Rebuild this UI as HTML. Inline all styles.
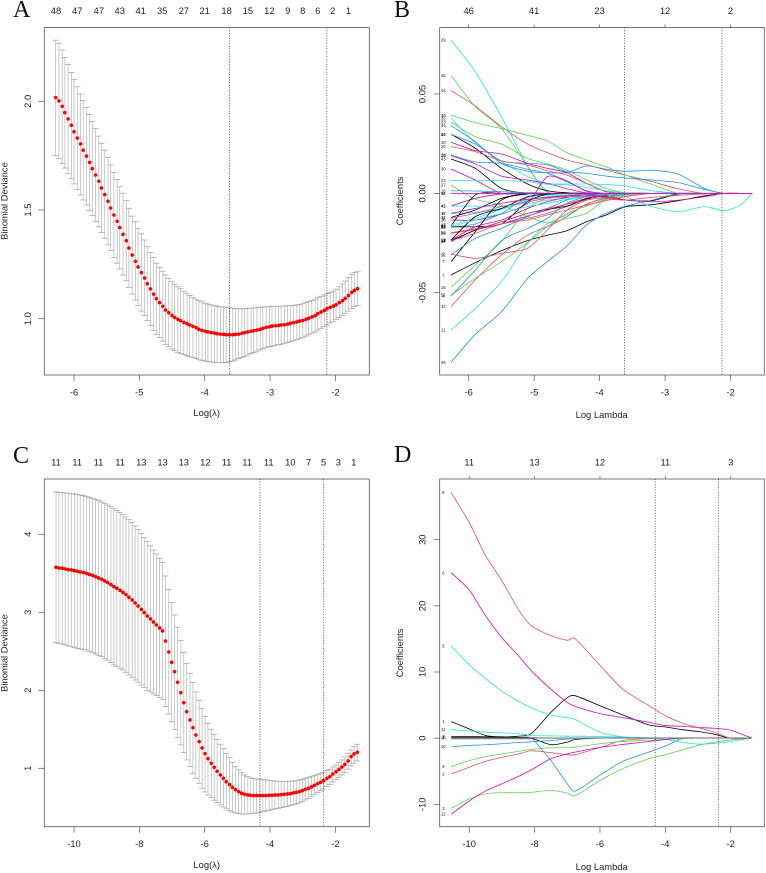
<!DOCTYPE html>
<html lang="en">
<head>
<meta charset="utf-8">
<title>Lasso regression cross-validation and coefficient paths</title>
<style>
html,body{margin:0;padding:0;background:#fff;width:766px;height:873px;overflow:hidden}
svg{display:block;filter:blur(0.3px)}
text{font-family:"Liberation Sans",sans-serif;font-size:9.4px;fill:#222}
.letter{font-family:"Liberation Serif",serif;font-size:24px;fill:#111}
</style>
</head>
<body>
<svg id="figure" xmlns="http://www.w3.org/2000/svg" width="766" height="873" viewBox="0 0 766 873">
  <rect width="766" height="873" fill="#fff"/>
  <text class="letter" x="13" y="17">A</text>
  <text class="letter" x="394" y="17">B</text>
  <text class="letter" x="13" y="463">C</text>
  <text class="letter" x="394" y="462">D</text>

  <text text-anchor="middle" transform="translate(7.5,201) rotate(-90)">Binomial Deviance</text>
  <text text-anchor="middle" x="206.7" y="416">Log(λ)</text>
  <text text-anchor="middle" transform="translate(403,201) rotate(-90)">Coefficients</text>
  <text text-anchor="middle" x="601.7" y="418">Log Lambda</text>
  <text text-anchor="middle" transform="translate(7.5,653) rotate(-90)">Binomial Deviance</text>
  <text text-anchor="middle" x="206.7" y="868">Log(λ)</text>
  <text text-anchor="middle" transform="translate(403,653) rotate(-90)">Coefficients</text>
  <text text-anchor="middle" x="601.7" y="870">Log Lambda</text>
</svg>
<script>
/* ---------- Panel A data ---------- */
const logLambdaA = [-6.28,-6.23,-6.18,-6.14,-6.09,-6.04,-6.00,-5.95,-5.90,-5.86,-5.81,-5.76,-5.72,-5.67,-5.62,-5.58,-5.53,-5.48,-5.44,-5.39,-5.34,-5.30,-5.25,-5.20,-5.16,-5.11,-5.06,-5.02,-4.97,-4.92,-4.88,-4.83,-4.78,-4.74,-4.69,-4.64,-4.60,-4.55,-4.50,-4.46,-4.41,-4.37,-4.32,-4.27,-4.23,-4.18,-4.13,-4.09,-4.04,-3.99,-3.95,-3.90,-3.85,-3.81,-3.76,-3.71,-3.67,-3.62,-3.57,-3.53,-3.48,-3.43,-3.39,-3.34,-3.29,-3.25,-3.20,-3.15,-3.11,-3.06,-3.01,-2.97,-2.92,-2.87,-2.83,-2.78,-2.73,-2.69,-2.64,-2.59,-2.55,-2.50,-2.45,-2.41,-2.36,-2.31,-2.27,-2.22,-2.17,-2.13,-2.08,-2.03,-1.99,-1.94,-1.89,-1.85,-1.80,-1.75,-1.71,-1.66];
const meanA = [2.017,2.002,1.977,1.948,1.919,1.890,1.860,1.831,1.804,1.775,
1.748,1.719,1.690,1.661,1.632,1.601,1.571,1.540,1.509,1.477,
1.448,1.419,1.388,1.359,1.325,1.293,1.264,1.238,1.212,1.187,
1.161,1.137,1.113,1.092,1.074,1.057,1.040,1.028,1.015,1.006,
.997,.991,.983,.977,.971,.965,.959,.951,.946,.942,
.939,.936,.934,.931,.929,.928,.926,.926,.926,.928,
.929,.933,.936,.939,.942,.945,.948,.951,.956,.960,
.963,.966,.968,.969,.971,.972,.975,.979,.982,.985,
.989,.992,.997,1.002,1.008,1.014,1.023,1.031,1.038,1.046,
1.052,1.058,1.064,1.074,1.083,1.094,1.107,1.121,1.130,1.138];
const upperA = [2.281,2.267,2.236,2.202,2.170,2.133,2.101,2.067,2.034,2.003,
1.972,1.940,1.908,1.874,1.840,1.807,1.775,1.741,1.707,1.673,
1.640,1.607,1.577,1.543,1.508,1.472,1.446,1.416,1.390,1.362,
1.331,1.305,1.281,1.255,1.236,1.219,1.201,1.186,1.170,1.158,
1.147,1.138,1.127,1.117,1.107,1.098,1.090,1.083,1.077,1.071,
1.067,1.063,1.060,1.057,1.055,1.054,1.052,1.051,1.048,1.046,
1.046,1.046,1.046,1.048,1.048,1.049,1.051,1.052,1.054,1.055,
1.055,1.057,1.057,1.057,1.058,1.058,1.060,1.060,1.061,1.063,
1.066,1.069,1.074,1.078,1.084,1.090,1.097,1.103,1.109,1.115,
1.121,1.127,1.136,1.147,1.160,1.173,1.189,1.204,1.213,1.216];
const lowerA = [1.750,1.736,1.715,1.693,1.669,1.644,1.620,1.594,1.569,1.546,
1.523,1.498,1.474,1.448,1.423,1.397,1.370,1.340,1.313,1.282,
1.255,1.229,1.201,1.175,1.144,1.113,1.086,1.060,1.035,1.014,
.991,.968,.946,.928,.913,.897,.882,.871,.860,.853,
.845,.840,.834,.830,.825,.821,.816,.811,.808,.805,
.802,.801,.799,.798,.798,.798,.799,.802,.805,.810,
.817,.822,.827,.833,.839,.845,.851,.857,.862,.867,
.871,.874,.877,.880,.883,.887,.890,.894,.899,.903,
.908,.914,.920,.926,.933,.939,.948,.956,.963,.971,
.980,.988,.997,1.006,1.015,1.025,1.035,1.046,1.055,1.061];
const xTicksA = [-6,-5,-4,-3,-2];
const yTicksA = [1,1.5,2];
const yTickLabelsA = ["1.0","1.5","2.0"];
const topLabelsA = ["48","47","47","43","41","35","27","21","18","15","12","9","8","6","2","1"];
const topAtA = [-6.275,-5.95,-5.62,-5.30,-4.98,-4.65,-4.32,-4.00,-3.665,-3.34,-3.01,-2.73,-2.50,-2.27,-2.04,-1.80];
const vlinesA = [-3.62,-2.13];

/* ---------- Panel C data ---------- */
const logLambdaC = [-10.55,-10.46,-10.36,-10.27,-10.18,-10.08,-9.99,-9.90,-9.81,-9.71,-9.62,-9.53,-9.43,-9.34,-9.25,-9.15,-9.06,-8.97,-8.87,-8.78,-8.69,-8.59,-8.50,-8.41,-8.32,-8.22,-8.13,-8.04,-7.94,-7.85,-7.76,-7.66,-7.57,-7.48,-7.38,-7.29,-7.20,-7.10,-7.01,-6.92,-6.83,-6.73,-6.64,-6.55,-6.45,-6.36,-6.27,-6.17,-6.08,-5.99,-5.90,-5.80,-5.71,-5.62,-5.52,-5.43,-5.34,-5.24,-5.15,-5.06,-4.96,-4.87,-4.78,-4.68,-4.59,-4.50,-4.41,-4.31,-4.22,-4.13,-4.03,-3.94,-3.85,-3.75,-3.66,-3.57,-3.47,-3.38,-3.29,-3.20,-3.10,-3.01,-2.92,-2.82,-2.73,-2.64,-2.54,-2.45,-2.36,-2.26,-2.17,-2.08,-1.98,-1.89,-1.80,-1.71,-1.61,-1.52,-1.43,-1.33];
const meanC = [3.577,3.568,3.564,3.556,3.547,3.543,3.534,3.526,3.517,3.509,
3.500,3.487,3.474,3.457,3.440,3.423,3.402,3.380,3.355,3.329,
3.308,3.282,3.256,3.226,3.192,3.158,3.120,3.081,3.038,2.996,
2.953,2.915,2.876,2.838,2.799,2.761,2.632,2.491,2.359,2.239,
2.103,1.970,1.842,1.726,1.620,1.521,1.427,1.342,1.261,1.188,
1.124,1.064,1.013,.962,.915,.872,.829,.791,.756,.726,
.701,.679,.667,.658,.654,.650,.650,.650,.650,.650,
.654,.654,.658,.658,.662,.667,.671,.675,.684,.692,
.701,.714,.731,.744,.761,.782,.803,.821,.842,.872,
.893,.927,.957,.987,1.017,1.051,1.094,1.150,1.184,1.205];
const upperC = [4.543,4.538,4.534,4.530,4.526,4.521,4.517,4.509,4.504,4.496,
4.483,4.474,4.462,4.449,4.432,4.415,4.397,4.376,4.355,4.333,
4.308,4.282,4.252,4.222,4.188,4.150,4.107,4.060,4.009,3.957,
3.906,3.850,3.799,3.748,3.692,3.641,3.466,3.291,3.124,2.966,
2.808,2.641,2.487,2.346,2.218,2.098,1.979,1.868,1.765,1.667,
1.577,1.500,1.432,1.368,1.308,1.252,1.192,1.137,1.077,1.021,
.979,.944,.915,.893,.876,.868,.863,.859,.855,.850,
.846,.842,.838,.833,.833,.833,.833,.833,.838,.842,
.850,.859,.872,.885,.897,.910,.923,.936,.949,.970,
.987,1.017,1.043,1.073,1.107,1.145,1.188,1.235,1.278,1.308];
const lowerC = [2.611,2.598,2.594,2.581,2.568,2.564,2.551,2.538,2.530,2.521,
2.517,2.500,2.487,2.466,2.449,2.432,2.406,2.385,2.355,2.325,
2.308,2.282,2.261,2.231,2.197,2.167,2.132,2.103,2.068,2.034,
2.000,1.979,1.953,1.932,1.906,1.880,1.791,1.697,1.598,1.500,
1.393,1.299,1.201,1.107,1.021,.936,.872,.808,.744,.697,
.658,.624,.590,.560,.530,.504,.479,.457,.440,.427,
.419,.415,.415,.415,.419,.423,.427,.436,.444,.453,
.462,.470,.479,.487,.496,.504,.513,.526,.534,.543,
.556,.573,.594,.615,.641,.667,.688,.714,.735,.765,
.791,.825,.855,.885,.915,.944,.987,1.030,1.064,1.094];
const xTicksC = [-10,-8,-6,-4,-2];
const yTicksC = [1,2,3,4];
const yTickLabelsC = ["1","2","3","4"];
const topLabelsC = ["11","11","11","11","13","13","13","12","11","11","11","10","7","5","3","1"];
const topAtC = [-10.55,-9.90,-9.25,-8.59,-7.94,-7.29,-6.64,-5.98,-5.33,-4.70,-4.04,-3.38,-2.82,-2.36,-1.91,-1.44];
const vlinesC = [-4.31,-2.37];

/* ---------- Panel B data: coefficient paths, in thousandths; values after the end of a row are zero ---------- */
const coefGridB = [-6.27,-5.9,-5.5,-5.1,-4.8,-4.5,-4.2,-3.9,-3.6,-3.2,-2.8,-2.4,-2.1,-1.85,-1.67];
const labelsB = [29,45,44,39,33,35,34,31,40,48,20,18,28,43,30,23,27,16,42,41,17,37,36,25,47,22,49,50,24,19,1,46,11,32,51,15,4,7,52,2,5,26,12,13,14,53,6,8,54];
const coefB = [
[77.2,61.2,38.6,13.8,.3],
[59.4,43.6,32.7,13.4,.8],
[51.7,44,33.6,24.8,20.5,16.8,14.4,11.7,9.1,5.9,2.3],
[39.3,35.6,32.6,29.2,26.5,20.5,16.8,13.4,9.1,4.5],
[35.9,28.5,24.8,17.6,14.8,11.7,6.7,2.5,.3],
[37.8,25.5,16.1,8.4,5,4.7,4.7,4.4,3.7,1.3,.2],
[34.1,26,15.1,11.2,10.4,10.4,13.8,12.1,11.1,11.6,9.7,2.5],
[29.7,22.7,12.6,4.7,1.3,.3],
[29.7,24.8,16.4,15.1,14.4,10.9,10.1,8.7,7.7,6.7,5.4,2],
[25.7,21.5,19.8,15.1,12.6,10.4,5,.8],
[23.5,21,16.3,14.3,11.4,9.2,5,1],
[19,14.8,8.7,6.7,5,2.3,.3],
[19.3,15.8,15.1,12.1,10.1,6.4,1],
[17.3,12.6,2.5],
[12.2,6.7],
[6.4,6.4,6.4,5.9,4.5,4.2,3,1.3,.3],
[4.2,-2.9,-5.9,-11.7,-14.8,-12.6,-10.1,-3,-.3],
[1.3,1.2,.8,.3],
[-6.4,-2.5,-.3],
[-6.4,-6.4,-6.4,-5,-3.4,-2.5,-1.7,-1,-.3],
[-10.1,-9.6,-7.6,-3.4,-1.7,-1,-.3],
[-12.1,-8.4,-2.5],
[-13.4,-13.4,-10.4,-5,8.4,5.9,1.3],
[-16.4,-.8],
[-15.9,-12.6,-8.1,-3.7,-1.7,-.7],
[-17.1,-15.4,-10.1,-2,-.8],
[-16.8,-16.8,-15.4,-4.2,-.3],
[-19.8,-17.8,-15.4,-12.6,-10.1,-6.7,-3,-.7],
[-24.3,-18.5,-15.4,-11.4,-8.4,-5.4,-2.5,-.3],
[-23.8,-18.5,-14.3,-10.1,-8.1,-6.4,-2.7,-1.3,-3.4,-3.7,-.3],
[-41.1,-34.9,-28.9,-23.8,-21.1,-18.8,-14.3,-10.9,-6.7,-5.7,-3.7,-1.3],
[-85.1,-71,-59.6,-42.8,-34.4,-26.5,-15.9,-10.1,-6.4,-3.4],
[-68.8,-57.9,-44.5,-25.2,-15.4,-10.9,-5.4,-2,-.3],
[-57,-43.6,-31,-21,-16.8,-11.7,-5.4,-2.5,-.7],
[-51.2,-42.8,-34.4,-24.8,-16.8,-10.1,-6.4,-3,-1.3],
[-47.3,-36.1,-24.3,-7.6,-2.5,-.8],
[-51.7,-38.6,-23.8,-17.6,-12.6,-5,-1.7,-.3],
[-34.4,-19.3,-3.4,-.3],
[-31,-22.7,-17.6,-11.7,-7.6,-3.4,-1.3],
[-30.5,-32.7,-30.2,-27.7,-18.5,-8.4,-3.4,-.8],
[0,0,0,0,0,0,0,-.3,-1.7,-6.7,-9.2,-6.7,-8.7,-5.9,0],
[-20.1,-18.1,-14.3,-10.1,-7.6,-5.4,-3.4,-1.7],
[-23.5,-16.8,-13.4,-7.6,-4.2,-2,-.7],
[-23.5,-11.7,-7.6,-1.7,-.3],
[-23.8,-20.1,-15.4,-13.4,-10.9,-8.4,-5.9,-3.7,-1.7],
[-16.8,-13.4,-10.1,-6.7,-5,-3,-1.7],
[-10.1,-7.6,-5,-3,-2,-1.3,-.8,-2,-3.4,-4.2,-3.4,-1.7],
[-12.6,-10.1,-6.7,-4.2,-2.5,-1.7,-1.7,-2.7,-3.4,-2,-1,-.3],
[0]
];
const xTicksB = [-6,-5,-4,-3,-2];
const yTicksB = [-0.05,0,0.05];
const yTickLabelsB = ["-0.05","0.00","0.05"];
const topLabelsB = ["46","41","23","12","2"];
const vlinesB = [-3.62,-2.13];

/* ---------- Panel D data: coefficient paths; values after the end of a row are zero ---------- */
const coefGridD = [-10.55,-10,-9.5,-9,-8.5,-8.1,-7.5,-7,-6.75,-6,-5.3,-4.5,-4,-3.5,-3,-2.5,-2,-1.35];
const labelsD = [1,2,3,4,5,6,7,8,9,10,11,12,13];
const coefD = [
[2.5,1.4,.4,.2,.3,.7,3.9,6.1,6.4,4.9,3.5,2,1.7,1.3,1,.6],
[-5.4,-4.4,-3.5,-2.9,-2.4,-1.9,-2.2,-2.5,-2.5,-1.4,-.35,-.05],
[-10.6,-9.2,-8.4,-8.25,-8.25,-8.2,-7.9,-8.3,-8.7,-6.4,-4.6,-3.1,-2.5,-1.8,-1.1,-.6,-.25],
[0,0,0,0,0,0,-3.4,-6.9,-8,-5.6,-3.5,-2.1,-1.2,-.1],
[13.9,11.1,9,7.1,5.6,4.6,3.5,3.1,2.8,.9,.2,0,-.2,-.6,-.9,-.8,-.5],
[25,22.4,18.5,15.2,12.5,10.2,7.4,5.4,4.8,3.7,3.1,2.4,1.9,1.8,1.6,1.5,1.2],
[.25,.25,.2,.15,.1,0,-1,-.6,-.2],
[37.1,32.6,27.6,23.8,19.5,17,15.5,14.8,15,11,7.4,4.9,3.4,2.3,1.6,.9],
[-4.3,-3.4,-2.8,-2.4,-2,-1.7,-1.45,-1.45,-1.35,-.85,-.5,-.3,-.2,-.1],
[-1.3,-1.1,-1,-.85,-.65,-.55,-.35,-.15,-.05],
[1.3,1.1,.9,.8,.7,.4,.35,.3,.3,.25,.15,.05],
[-11.5,-9.5,-8,-6.9,-5.8,-4.8,-3.1,-2.4,-2.1,-1.4,-.95,-.5,-.2],
[.1,.1,.1,.1,.1,.05]
];
const xTicksD = [-10,-8,-6,-4,-2];
const yTicksD = [-10,0,10,20,30];
const yTickLabelsD = ["-10","0","10","20","30"];
const topLabelsD = ["11","13","12","11","3"];
const vlinesD = [-4.31,-2.37];

const seriesPalette = ["#000000","#DF536B","#61D04F","#2297E6","#28E2E5","#CD0BBC"];

/* ---------- helpers ---------- */
const SVG_NS = "http://www.w3.org/2000/svg";
const figure = document.getElementById("figure");
function scale(d0, p0, d1, p1) {
  return function (v) { return p0 + (v - d0) * (p1 - p0) / (d1 - d0); };
}
function mk(parent, tag, props) {
  const n = document.createElementNS(SVG_NS, tag);
  for (const k in props) n.setAttribute(k, props[k]);
  parent.appendChild(n);
  return n;
}
function panelGroup(name) {
  const g = mk(figure, "g", {});
  
  
  return g;
}
function drawFrame(g, box) {
  const r = mk(g, "rect", {x: box.l, y: box.t, width: box.r - box.l, height: box.b - box.t, fill: "none", stroke: "#555", "stroke-width": 0.8});
  
  
}
function drawXAxis(g, box, x, ticks, tickLabelY) {
  ticks.forEach(function (t) {
    const tk = mk(g, "line", {x1: x(t), x2: x(t), y1: box.b, y2: box.b + 6, stroke: "#555", "stroke-width": 0.7});
    
    
    const lb = mk(g, "text", {x: x(t), y: tickLabelY, "text-anchor": "middle"});
    
    
    lb.textContent = String(t);
  });
}
function drawYAxis(g, box, y, ticks, labels, labelX) {
  ticks.forEach(function (t, i) {
    const tk = mk(g, "line", {x1: box.l - 6, x2: box.l, y1: y(t), y2: y(t), stroke: "#555", "stroke-width": 0.7});
    
    
    const lb = mk(g, "text", {"text-anchor": "middle", transform: "translate(" + labelX + "," + y(t) + ") rotate(-90)"});
    
    
    lb.textContent = labels[i];
  });
}
function drawTopLabels(g, box, x, positions, labels, textY, withTicks) {
  labels.forEach(function (s, i) {
    if (withTicks) {
      const tk = mk(g, "line", {x1: x(positions[i]), x2: x(positions[i]), y1: box.t - 3, y2: box.t, stroke: "#555", "stroke-width": 0.7});
      
      
    }
    const lb = mk(g, "text", {x: x(positions[i]), y: textY, "text-anchor": "middle"});
    
    
    lb.textContent = s;
  });
}
function drawVLines(g, box, x, values) {
  values.forEach(function (v) {
    const ln = mk(g, "line", {x1: x(v), x2: x(v), y1: box.t, y2: box.b, stroke: "#222", "stroke-width": 0.7, "stroke-dasharray": "1 1.6"});
    
    
  });
}
function drawCv(g, x, y, lam, mean, up, lo) {
  lam.forEach(function (v, i) {
    const px = x(v);
    const bar = mk(g, "line", {x1: px, x2: px, y1: y(up[i]), y2: y(lo[i]), stroke: "#b4b4b4", "stroke-width": 0.7});
    
    
    const capU = mk(g, "line", {x1: px - 3, x2: px + 3, y1: y(up[i]), y2: y(up[i]), stroke: "#a9a9a9", "stroke-width": 0.8});
    
    
    const capL = mk(g, "line", {x1: px - 3, x2: px + 3, y1: y(lo[i]), y2: y(lo[i]), stroke: "#a9a9a9", "stroke-width": 0.8});
    
    
  });
  lam.forEach(function (v, i) {
    const dot = mk(g, "circle", {cx: x(v), cy: y(mean[i]), r: 1.8, fill: "#ff0000"});
    
    
  });
}
function smoothPath(pts) {
  /* gentle curve through the knots so the paths read as smooth, not angular */
  let d = "M" + pts[0][0].toFixed(2) + " " + pts[0][1].toFixed(2);
  for (let i = 0; i < pts.length - 1; i++) {
    const p0 = pts[Math.max(i - 1, 0)], p1 = pts[i], p2 = pts[i + 1], p3 = pts[Math.min(i + 2, pts.length - 1)];
    const c1x = p1[0] + (p2[0] - p0[0]) / 8, c1y = p1[1] + (p2[1] - p0[1]) / 8;
    const c2x = p2[0] - (p3[0] - p1[0]) / 8, c2y = p2[1] - (p3[1] - p1[1]) / 8;
    d += "C" + c1x.toFixed(2) + " " + c1y.toFixed(2) + " " + c2x.toFixed(2) + " " + c2y.toFixed(2) + " " + p2[0].toFixed(2) + " " + p2[1].toFixed(2);
  }
  return d;
}
function drawPaths(g, x, y, grid, rows, labels, unit, labelX) {
  rows.forEach(function (row, j) {
    const pts = grid.map(function (v, i) {
      const c = i < row.length ? row[i] : 0;
      return [x(v), y(c * unit)];
    });
    const colour = seriesPalette[(labels[j] - 1) % 6];
    const ln = mk(g, "path", {d: smoothPath(pts), fill: "none", stroke: colour, "stroke-width": 0.8, "stroke-linejoin": "round"});
    
    
    const tag = mk(g, "text", {x: labelX, y: y(row[0] * unit) + 1.5, "text-anchor": "middle", style: "font-size:4.4px"});
    
    
    tag.textContent = String(labels[j]);
  });
}

/* ---------- Panel A ---------- */
const boxA = {l: 44.3, r: 369.3, t: 27.5, b: 375};
const xA = scale(-6, 74, -2, 335.4);
const yA = scale(2, 101.3, 1, 318.7);
const gA = panelGroup('panel-a-cv-deviance');
drawCv(gA, xA, yA, logLambdaA, meanA, upperA, lowerA);
drawVLines(gA, boxA, xA, vlinesA);
drawFrame(gA, boxA);
drawXAxis(gA, boxA, xA, xTicksA, 395.5);
drawYAxis(gA, boxA, yA, yTicksA, yTickLabelsA, 31);
drawTopLabels(gA, boxA, xA, topAtA, topLabelsA, 14, false);

/* ---------- Panel B ---------- */
const boxB = {l: 439.7, r: 764.3, t: 27.5, b: 375};
const xB = scale(-6, 468.7, -2, 730.5);
const yB = scale(0.05, 94, -0.05, 292.7);
const gB = panelGroup('panel-b-coefficient-paths');
drawPaths(gB, xB, yB, coefGridB, coefB, labelsB, 0.001, 443.3);
drawVLines(gB, boxB, xB, vlinesB);
drawFrame(gB, boxB);
drawXAxis(gB, boxB, xB, xTicksB, 395.5);
drawYAxis(gB, boxB, yB, yTicksB, yTickLabelsB, 425.6);
drawTopLabels(gB, boxB, xB, xTicksB, topLabelsB, 14, true);

/* ---------- Panel C ---------- */
const boxC = {l: 44.3, r: 369.3, t: 479, b: 826.7};
const xC = scale(-10, 74, -2, 335.4);
const yC = scale(4, 534.3, 1, 768.3);
const gC = panelGroup('panel-c-cv-deviance');
drawCv(gC, xC, yC, logLambdaC, meanC, upperC, lowerC);
drawVLines(gC, boxC, xC, vlinesC);
drawFrame(gC, boxC);
drawXAxis(gC, boxC, xC, xTicksC, 847);
drawYAxis(gC, boxC, yC, yTicksC, yTickLabelsC, 31);
drawTopLabels(gC, boxC, xC, topAtC, topLabelsC, 465.6, false);

/* ---------- Panel D ---------- */
const boxD = {l: 439.7, r: 764.3, t: 479, b: 826.7};
const xD = scale(-10, 469.2, -2, 730.7);
const yD = scale(30, 539.7, -10, 804.3);
const gD = panelGroup('panel-d-coefficient-paths');
drawPaths(gD, xD, yD, coefGridD, coefD, labelsD, 1, 443.3);
const zeroLine = mk(gD, "line", {x1: xD(coefGridD[0]), x2: xD(coefGridD[coefGridD.length - 1]), y1: yD(0), y2: yD(0), stroke: "#888888", "stroke-width": 0.9});


const zeroBand = mk(gD, "line", {x1: xD(coefGridD[0]), x2: xD(-8.1), y1: yD(0) + 0.4, y2: yD(0) + 0.4, stroke: "#808080", "stroke-width": 1.5});


drawVLines(gD, boxD, xD, vlinesD);
drawFrame(gD, boxD);
drawXAxis(gD, boxD, xD, xTicksD, 847);
drawYAxis(gD, boxD, yD, yTicksD, yTickLabelsD, 425.6);
drawTopLabels(gD, boxD, xD, xTicksD, topLabelsD, 465.6, true);
</script>
</body>
</html>
